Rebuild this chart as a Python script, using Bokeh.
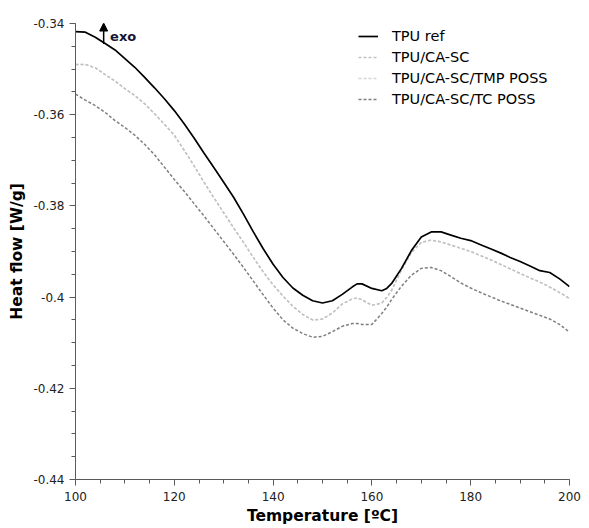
from bokeh.plotting import figure
from bokeh.models import (FixedTicker, NumeralTickFormatter, Legend, LegendItem,
                          Arrow, NormalHead, Label, Range1d)
from bokeh.embed import file_html
from bokeh.resources import INLINE
import numpy as np

temperature = [100, 102, 104, 106, 108, 110, 112, 114, 116, 118, 120, 122, 124, 126,
               128, 130, 132, 134, 136, 138, 140, 142, 144, 146, 148, 150, 152, 154,
               156, 157, 158, 160, 162, 163, 164, 166, 168, 170, 172, 174, 176, 178,
               180, 182, 184, 186, 188, 190, 192, 194, 196, 198, 200]

tpu_ref = [-0.3418, -0.3419, -0.3430, -0.3444, -0.3458, -0.3477, -0.3496, -0.3518,
           -0.3541, -0.3565, -0.3591, -0.3620, -0.3651, -0.3684, -0.3716, -0.3748,
           -0.3781, -0.3818, -0.3857, -0.3894, -0.3928, -0.3957, -0.3980, -0.3996,
           -0.4008, -0.4013, -0.4008, -0.3994, -0.3978, -0.3971, -0.3971, -0.3981,
           -0.3986, -0.3981, -0.3970, -0.3937, -0.3898, -0.3868, -0.3857, -0.3857,
           -0.3864, -0.3871, -0.3876, -0.3885, -0.3894, -0.3903, -0.3913, -0.3922,
           -0.3932, -0.3942, -0.3946, -0.3960, -0.3977]

tpu_ca_sc = [-0.3490, -0.3490, -0.3497, -0.3512, -0.3526, -0.3543, -0.3558, -0.3576,
             -0.3598, -0.3621, -0.3645, -0.3678, -0.3712, -0.3748, -0.3782, -0.3815,
             -0.3848, -0.3880, -0.3913, -0.3945, -0.3973, -0.3998, -0.4020, -0.4038,
             -0.4050, -0.4048, -0.4035, -0.4015, -0.4004, -0.4002, -0.4006, -0.4018,
             -0.4013, -0.4001, -0.3985, -0.3940, -0.3902, -0.3880, -0.3875, -0.3879,
             -0.3886, -0.3893, -0.3900, -0.3909, -0.3918, -0.3928, -0.3938, -0.3948,
             -0.3958, -0.3967, -0.3978, -0.3990, -0.4003]

tpu_ca_sc_tmp_poss = [-0.3490, -0.3490, -0.3497, -0.3512, -0.3526, -0.3543, -0.3558, -0.3576,
                      -0.3598, -0.3621, -0.3645, -0.3678, -0.3712, -0.3748, -0.3782, -0.3815,
                      -0.3848, -0.3880, -0.3913, -0.3945, -0.3973, -0.3998, -0.4020, -0.4038,
                      -0.4050, -0.4048, -0.4035, -0.4015, -0.4004, -0.4002, -0.4006, -0.4018,
                      -0.4013, -0.4001, -0.3985, -0.3940, -0.3902, -0.3880, -0.3875, -0.3879,
                      -0.3886, -0.3893, -0.3900, -0.3909, -0.3918, -0.3928, -0.3938, -0.3948,
                      -0.3958, -0.3967, -0.3978, -0.3990, -0.4003]

tpu_ca_sc_tc_poss = [-0.3555, -0.3568, -0.3580, -0.3595, -0.3613, -0.3628, -0.3645, -0.3665,
                     -0.3688, -0.3715, -0.3742, -0.3768, -0.3795, -0.3822, -0.3850, -0.3878,
                     -0.3906, -0.3935, -0.3965, -0.3995, -0.4024, -0.4050, -0.4068, -0.4080,
                     -0.4088, -0.4086, -0.4076, -0.4064, -0.4058, -0.4058, -0.4060, -0.4060,
                     -0.4036, -0.4022, -0.4005, -0.3976, -0.3952, -0.3937, -0.3935, -0.3942,
                     -0.3955, -0.3969, -0.3980, -0.3990, -0.3999, -0.4008, -0.4016, -0.4024,
                     -0.4032, -0.4040, -0.4048, -0.4060, -0.4077]

series_names = ["TPU ref", "TPU/CA-SC", "TPU/CA-SC/TMP POSS", "TPU/CA-SC/TC POSS"]
x_ticks = [100, 120, 140, 160, 180, 200]
y_ticks = [-0.44, -0.42, -0.40, -0.38, -0.36, -0.34]

FONT = "DejaVu Sans"
AXIS_COLOR = "#5a5a5a"

p = figure(width=581, height=527, output_backend="svg", toolbar_location=None,
           x_range=Range1d(100, 200), y_range=Range1d(-0.44, -0.34),
           min_border_left=75, min_border_right=12, min_border_top=23,
           min_border_bottom=48)
p.outline_line_color = None
p.grid.visible = False
p.background_fill_color = "white"

r_tmp = p.line(temperature, tpu_ca_sc_tmp_poss, line_color="#d4d4d4", line_width=1.5,
               line_dash="3 2")
r_ca = p.line(temperature, tpu_ca_sc, line_color="#c2c2c2", line_width=1.5, line_dash="3 2")
r_tc = p.line(temperature, tpu_ca_sc_tc_poss, line_color="#7f7f7f", line_width=1.5,
              line_dash="3 2")
r_ref = p.line(temperature, tpu_ref, line_color="black", line_width=1.7)

# axes
p.xaxis.ticker = FixedTicker(ticks=x_ticks, minor_ticks=list(np.arange(100, 201, 5)))
p.yaxis.ticker = FixedTicker(ticks=y_ticks, minor_ticks=list(np.round(np.arange(-0.44, -0.3399, 0.005), 4)))
p.yaxis.formatter = NumeralTickFormatter(format="0.[00]")
for ax in (p.xaxis[0], p.yaxis[0]):
    ax.axis_line_color = AXIS_COLOR
    ax.major_tick_line_color = AXIS_COLOR
    ax.minor_tick_line_color = AXIS_COLOR
    ax.major_tick_in = 0
    ax.major_tick_out = 6
    ax.minor_tick_in = 0
    ax.minor_tick_out = 4
    ax.major_label_text_font = FONT
    ax.major_label_text_font_size = "12px"
    ax.major_label_text_color = "#222222"
    ax.axis_label_text_font = FONT
    ax.axis_label_text_font_size = "15.5px"
    ax.axis_label_text_font_style = "bold"
    ax.axis_label_text_color = "black"
p.xaxis.axis_label = "Temperature [ºC]"
p.yaxis.axis_label = "Heat flow [W/g]"
p.xaxis.major_label_standoff = 6
p.xaxis.axis_label_standoff = 3
p.yaxis.major_label_standoff = 5
p.yaxis.axis_label_standoff = 4

legend = Legend(items=[LegendItem(label=series_names[0], renderers=[r_ref]),
                       LegendItem(label=series_names[1], renderers=[r_ca]),
                       LegendItem(label=series_names[2], renderers=[r_tmp]),
                       LegendItem(label=series_names[3], renderers=[r_tc])],
                location=(283, 370), border_line_color=None, background_fill_alpha=0,
                padding=0, margin=0, spacing=1, glyph_width=20, glyph_height=20,
                label_height=20, label_standoff=14, label_text_font=FONT,
                label_text_font_size="14.5px", label_text_color="black")
p.add_layout(legend, "center")

p.add_layout(Arrow(end=NormalHead(size=8, fill_color="black", line_color="black"),
                   x_start=105.7, y_start=-0.3445, x_end=105.7, y_end=-0.3399,
                   line_color="black", line_width=1.5))
p.add_layout(Label(x=107.0, y=-0.3428, text="exo", text_font=FONT, text_font_size="13px",
                   text_font_style="bold", text_color="#141432", text_baseline="middle"))

open("out.html", "w").write(file_html(p, INLINE))
